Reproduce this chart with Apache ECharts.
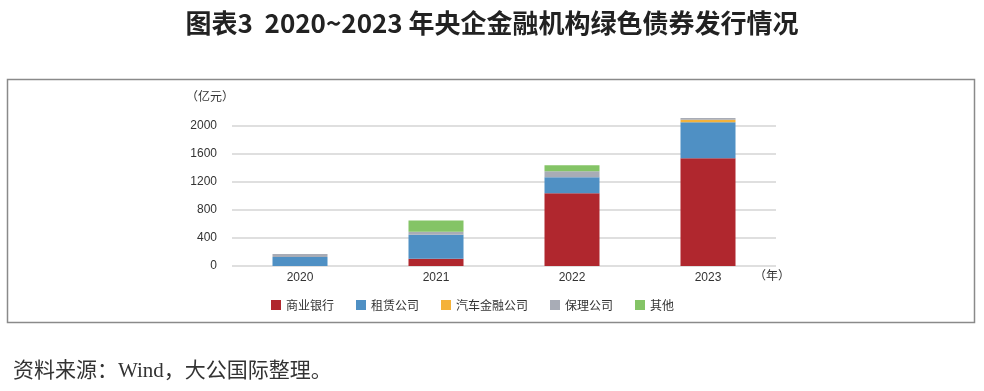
<!DOCTYPE html>
<html><head><meta charset="utf-8">
<script src="https://cdn.jsdelivr.net/npm/echarts@6/dist/echarts.min.js"></script>
<style>html,body{margin:0;padding:0;background:#fff}#c{width:984px;height:391px}</style>
</head><body><div id="c"></div>
<script>
const categories = ['2020', '2021', '2022', '2023'];
const seriesNames = ['商业银行', '租赁公司', '汽车金融公司', '保理公司', '其他'];
const bank = [0, 105, 1040, 1540];
const leasing = [130, 340, 228, 515];
const autoFinance = [0, 0, 0, 35];
const factoring = [40, 45, 86, 25];
const others = [0, 160, 86, 0];
const yTicks = [0, 400, 800, 1200, 1600, 2000];
const colors = ['#B0272E', '#4F90C4', '#F4B23A', '#A8ACB6', '#84C466'];

const values = [bank, leasing, autoFinance, factoring, others];
const chart = echarts.init(document.getElementById('c'));
chart.setOption({
  animation: false,
  title: [{
    text: '图表3  2020~2023 年央企金融机构绿色债券发行情况',
    left: 'center', top: 5,
    textStyle: { fontFamily: 'Noto Sans CJK SC', fontWeight: 'bold', fontSize: 26, color: '#222' }
  }, {
    text: '资料来源：Wind，大公国际整理。',
    left: 8, top: 356,
    textStyle: { fontFamily: 'Liberation Serif, Noto Sans CJK SC', fontWeight: 'normal', fontSize: 21, color: '#333' }
  }],
  graphic: [{
    type: 'rect', shape: { x: 7.5, y: 79.5, width: 967, height: 243 },
    style: { fill: 'none', stroke: '#8a8a8a', lineWidth: 1.5 }, silent: true
  }, {
    type: 'text', left: 186, top: 90,
    style: { text: '（亿元）', fontSize: 12, fill: '#333', fontFamily: 'Noto Sans CJK SC' }
  }, {
    type: 'text', left: 754, top: 269,
    style: { text: '（年）', fontSize: 12, fill: '#333', fontFamily: 'Noto Sans CJK SC' }
  }],
  legend: {
    data: seriesNames, left: 266, top: 294, itemWidth: 10, itemHeight: 10, itemGap: 22, icon: 'rect',
    textStyle: { fontSize: 12, color: '#333', fontFamily: 'Noto Sans CJK SC' }
  },
  grid: { left: 232, right: 208, top: 126, bottom: 125 },
  xAxis: {
    type: 'category', data: categories,
    axisLine: { show: false }, axisTick: { show: false },
    axisLabel: { fontSize: 12, color: '#333', margin: 6, fontFamily: 'Arial, Liberation Sans' }
  },
  yAxis: {
    type: 'value', min: yTicks[0], max: yTicks[yTicks.length - 1], interval: 400,
    axisLine: { show: false }, axisTick: { show: false },
    axisLabel: { fontSize: 12, color: '#333', margin: 15, fontFamily: 'Arial, Liberation Sans', formatter: v => String(v) },
    splitLine: { lineStyle: { color: '#d4d4d4', width: 1.5 } }
  },
  series: seriesNames.map((n, i) => ({
    name: n, type: 'bar', stack: 'total', barWidth: 55, clip: false,
    itemStyle: { color: colors[i] },
    data: values[i]
  }))
});
</script></body></html>
